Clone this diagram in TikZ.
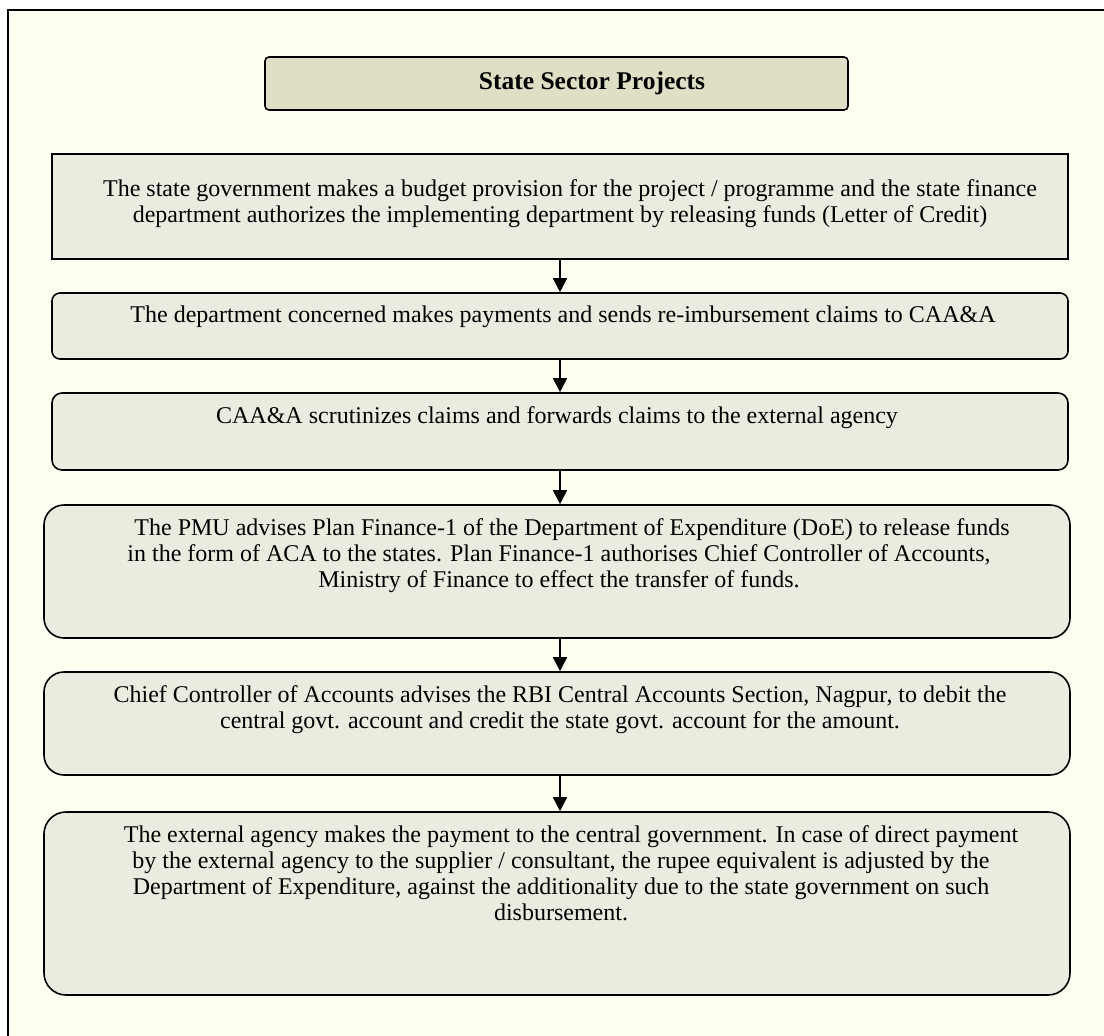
\documentclass[tikz,border=0pt]{standalone}
\usepackage{fontspec}
\setmainfont{Liberation Serif}
\usetikzlibrary{positioning,arrows.meta,shapes}
\definecolor{pagebackground}{HTML}{FFFFF2}
\definecolor{boxbackground}{HTML}{EBEBE0}
\definecolor{titlebackground}{HTML}{DFDFC6}

\begin{document}
\begin{tikzpicture}[x=1pt,y=-1pt,
    flowbox/.style={draw=black,line width=1.6pt,fill=boxbackground,inner sep=0pt},
    flowtext/.style={anchor=north,inner sep=0pt,align=center,font=\fontsize{24}{26}\selectfont},
    flowarrow/.style={line width=1.6pt,-{Triangle[width=14pt,length=14pt]}}]

    \useasboundingbox (0,0) rectangle (1104,1036);
    \clip (0,0) rectangle (1104,1036);
    \draw[fill=pagebackground,line width=2pt](8,10) rectangle (1130,1060);

    \node[flowbox,fill=titlebackground,rounded corners=4pt,minimum width=583pt,minimum height=53pt] (title) at (556.5,83.5) {};
    \node[inner sep=0pt,font=\fontsize{25.5}{28}\selectfont\bfseries] (titletext) at (592,83) {State Sector Projects};

    \node[flowbox,minimum width=1016pt,minimum height=105pt] (boxA) at (560,206.5) {};
    \node[flowbox,rounded corners=8pt,minimum width=1016pt,minimum height=66pt] (boxB) at (560,326) {};
    \node[flowbox,rounded corners=10pt,minimum width=1016pt,minimum height=77pt] (boxC) at (560,431.5) {};
    \node[flowbox,rounded corners=20pt,minimum width=1026pt,minimum height=133pt] (boxD) at (557,571.5) {};
    \node[flowbox,rounded corners=20pt,minimum width=1026pt,minimum height=103pt] (boxE) at (557,723.5) {};
    \node[flowbox,rounded corners=22pt,minimum width=1026pt,minimum height=183pt] (boxF) at (557,903.5) {};

    \node[flowtext] (textA) at (560,179) {\hspace*{20pt}The state government makes a budget provision for the project / programme and the state finance\\department authorizes the implementing department by releasing funds (Letter of Credit)};
    \node[flowtext] (textB) at (563,306) {The department concerned makes payments and sends re-imbursement claims to CAA\&A};
    \node[flowtext] (textC) at (557,406) {CAA\&A scrutinizes claims and forwards claims to the external agency};
    \node[flowtext] (textD) at (559,518) {\hspace*{26pt}The PMU advises Plan Finance-1 of the Department of Expenditure (DoE) to release funds\\in the form of ACA to the states. Plan Finance-1 authorises Chief Controller of Accounts,\\Ministry of Finance to effect the transfer of funds.};
    \node[flowtext] (textE) at (560,685) {Chief Controller of Accounts advises the RBI Central Accounts Section, Nagpur, to debit the\\central govt. account and credit the state govt. account for the amount.};
    \node[flowtext] (textF) at (561,825) {\hspace*{20pt}The external agency makes the payment to the central government. In case of direct payment\\by the external agency to the supplier / consultant, the rupee equivalent is adjusted by the\\Department of Expenditure, against the additionality due to the state government on such\\disbursement.};

    \draw[flowarrow] (boxA.south) -- (boxB.north);
    \draw[flowarrow] (boxB.south) -- (boxC.north);
    \draw[flowarrow] (boxC.south) -- (boxC.south |- boxD.north);
    \draw[flowarrow] (boxC.south |- boxD.south) -- (boxC.south |- boxE.north);
    \draw[flowarrow] (boxC.south |- boxE.south) -- (boxC.south |- boxF.north);
\end{tikzpicture}
\end{document}
